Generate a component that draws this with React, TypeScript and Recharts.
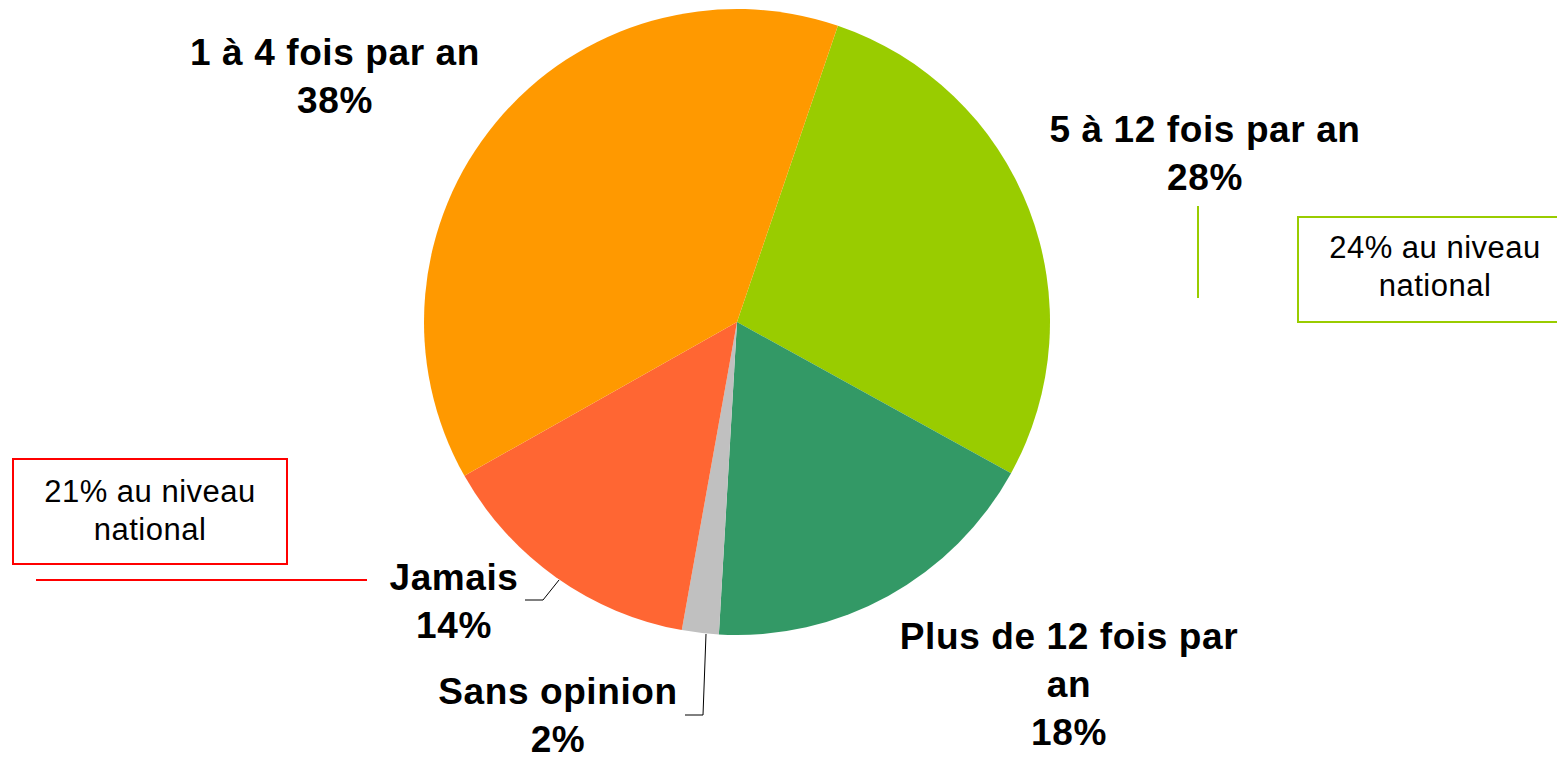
import { Cell, Pie, PieChart } from "recharts";

const categories = [
  "5 à 12 fois par an",
  "Plus de 12 fois par an",
  "Sans opinion",
  "Jamais",
  "1 à 4 fois par an",
];
// shares in %, labels show them rounded
const shares = [27.8, 17.9, 1.9, 14.0, 38.4];
const colors = ["#99CC00", "#339966", "#C0C0C0", "#FF6633", "#FF9900"];

// label lines as they wrap in the original
const labelLines: Record<string, string[]> = {
  "5 à 12 fois par an": ["5 à 12 fois par an"],
  "Plus de 12 fois par an": ["Plus de 12 fois par", "an"],
  "Sans opinion": ["Sans opinion"],
  Jamais: ["Jamais"],
  "1 à 4 fois par an": ["1 à 4 fois par an"],
};

// label anchor (text centre, first baseline) relative to pie centre
const labelPos: Record<string, [number, number]> = {
  "5 à 12 fois par an": [468, -180],
  "Plus de 12 fois par an": [332, 327],
  "Sans opinion": [-179, 382],
  Jamais: [-283, 268],
  "1 à 4 fois par an": [-402, -257],
};

const leaders: Record<string, [number, number][]> = {
  Jamais: [[-212, 278], [-194, 278], [-178, 258]],
  "Sans opinion": [[-52, 393], [-34, 393], [-31, 312]],
};

const data = categories.map((name, i) => ({ name, value: shares[i] }));

const W = 1557;
const H = 757;
const CX = 737;
const CY = 322;
const FONT = "'Liberation Sans', Arial, sans-serif";

function renderLabel(props: any) {
  const { cx, cy, name, value } = props;
  const [dx, dy] = labelPos[name];
  const lines = [...labelLines[name], `${Math.round(value)}%`];
  const lead = leaders[name];
  return (
    <g key={name}>
      {lead && (
        <polyline
          points={lead.map(([a, b]) => `${cx + a},${cy + b}`).join(" ")}
          fill="none"
          stroke="#000"
          strokeWidth={1}
        />
      )}
      <text
        x={cx + dx}
        y={cy + dy}
        textAnchor="middle"
        fontFamily={FONT}
        fontWeight="bold"
        fontSize={37}
        letterSpacing={0.6}
        fill="#000"
      >
        {lines.map((l, i) => (
          <tspan key={i} x={cx + dx} dy={i === 0 ? 0 : 48}>
            {l}
          </tspan>
        ))}
      </text>
    </g>
  );
}

export default function App() {
  return (
    <div style={{ position: "absolute", left: 0, top: 0, width: W, height: H, background: "#fff" }}>
      <PieChart width={W} height={H} margin={{ top: 0, right: 0, bottom: 0, left: 0 }}>
        <Pie
          data={data}
          dataKey="value"
          nameKey="name"
          cx={CX}
          cy={CY}
          outerRadius={313}
          startAngle={71.2}
          endAngle={-288.8}
          stroke="none"
          label={renderLabel}
          labelLine={false}
          isAnimationActive={false}
        >
          {data.map((d, i) => (
            <Cell key={d.name} fill={colors[i]} />
          ))}
        </Pie>
      </PieChart>
      <svg
        width={W}
        height={H}
        style={{ position: "absolute", left: 0, top: 0, pointerEvents: "none" }}
      >
        <line x1={1198} y1={206} x2={1198} y2={298} stroke="#99CC00" strokeWidth={2} />
        <rect x={1298} y={217} width={280} height={105} fill="#fff" stroke="#99CC00" strokeWidth={2} />
        <text x={1435} y={258} textAnchor="middle" fontFamily={FONT} fontSize={31} letterSpacing={0.5} fill="#000">
          <tspan x={1435}>24% au niveau</tspan>
          <tspan x={1435} dy={38}>national</tspan>
        </text>

        <rect x={13} y={459} width={274} height={105} fill="#fff" stroke="#FF0000" strokeWidth={2} />
        <text x={150} y={502} textAnchor="middle" fontFamily={FONT} fontSize={31} letterSpacing={0.5} fill="#000">
          <tspan x={150}>21% au niveau</tspan>
          <tspan x={150} dy={38}>national</tspan>
        </text>
        <line x1={36} y1={580} x2={367} y2={580} stroke="#FF0000" strokeWidth={2} />
      </svg>
    </div>
  );
}
